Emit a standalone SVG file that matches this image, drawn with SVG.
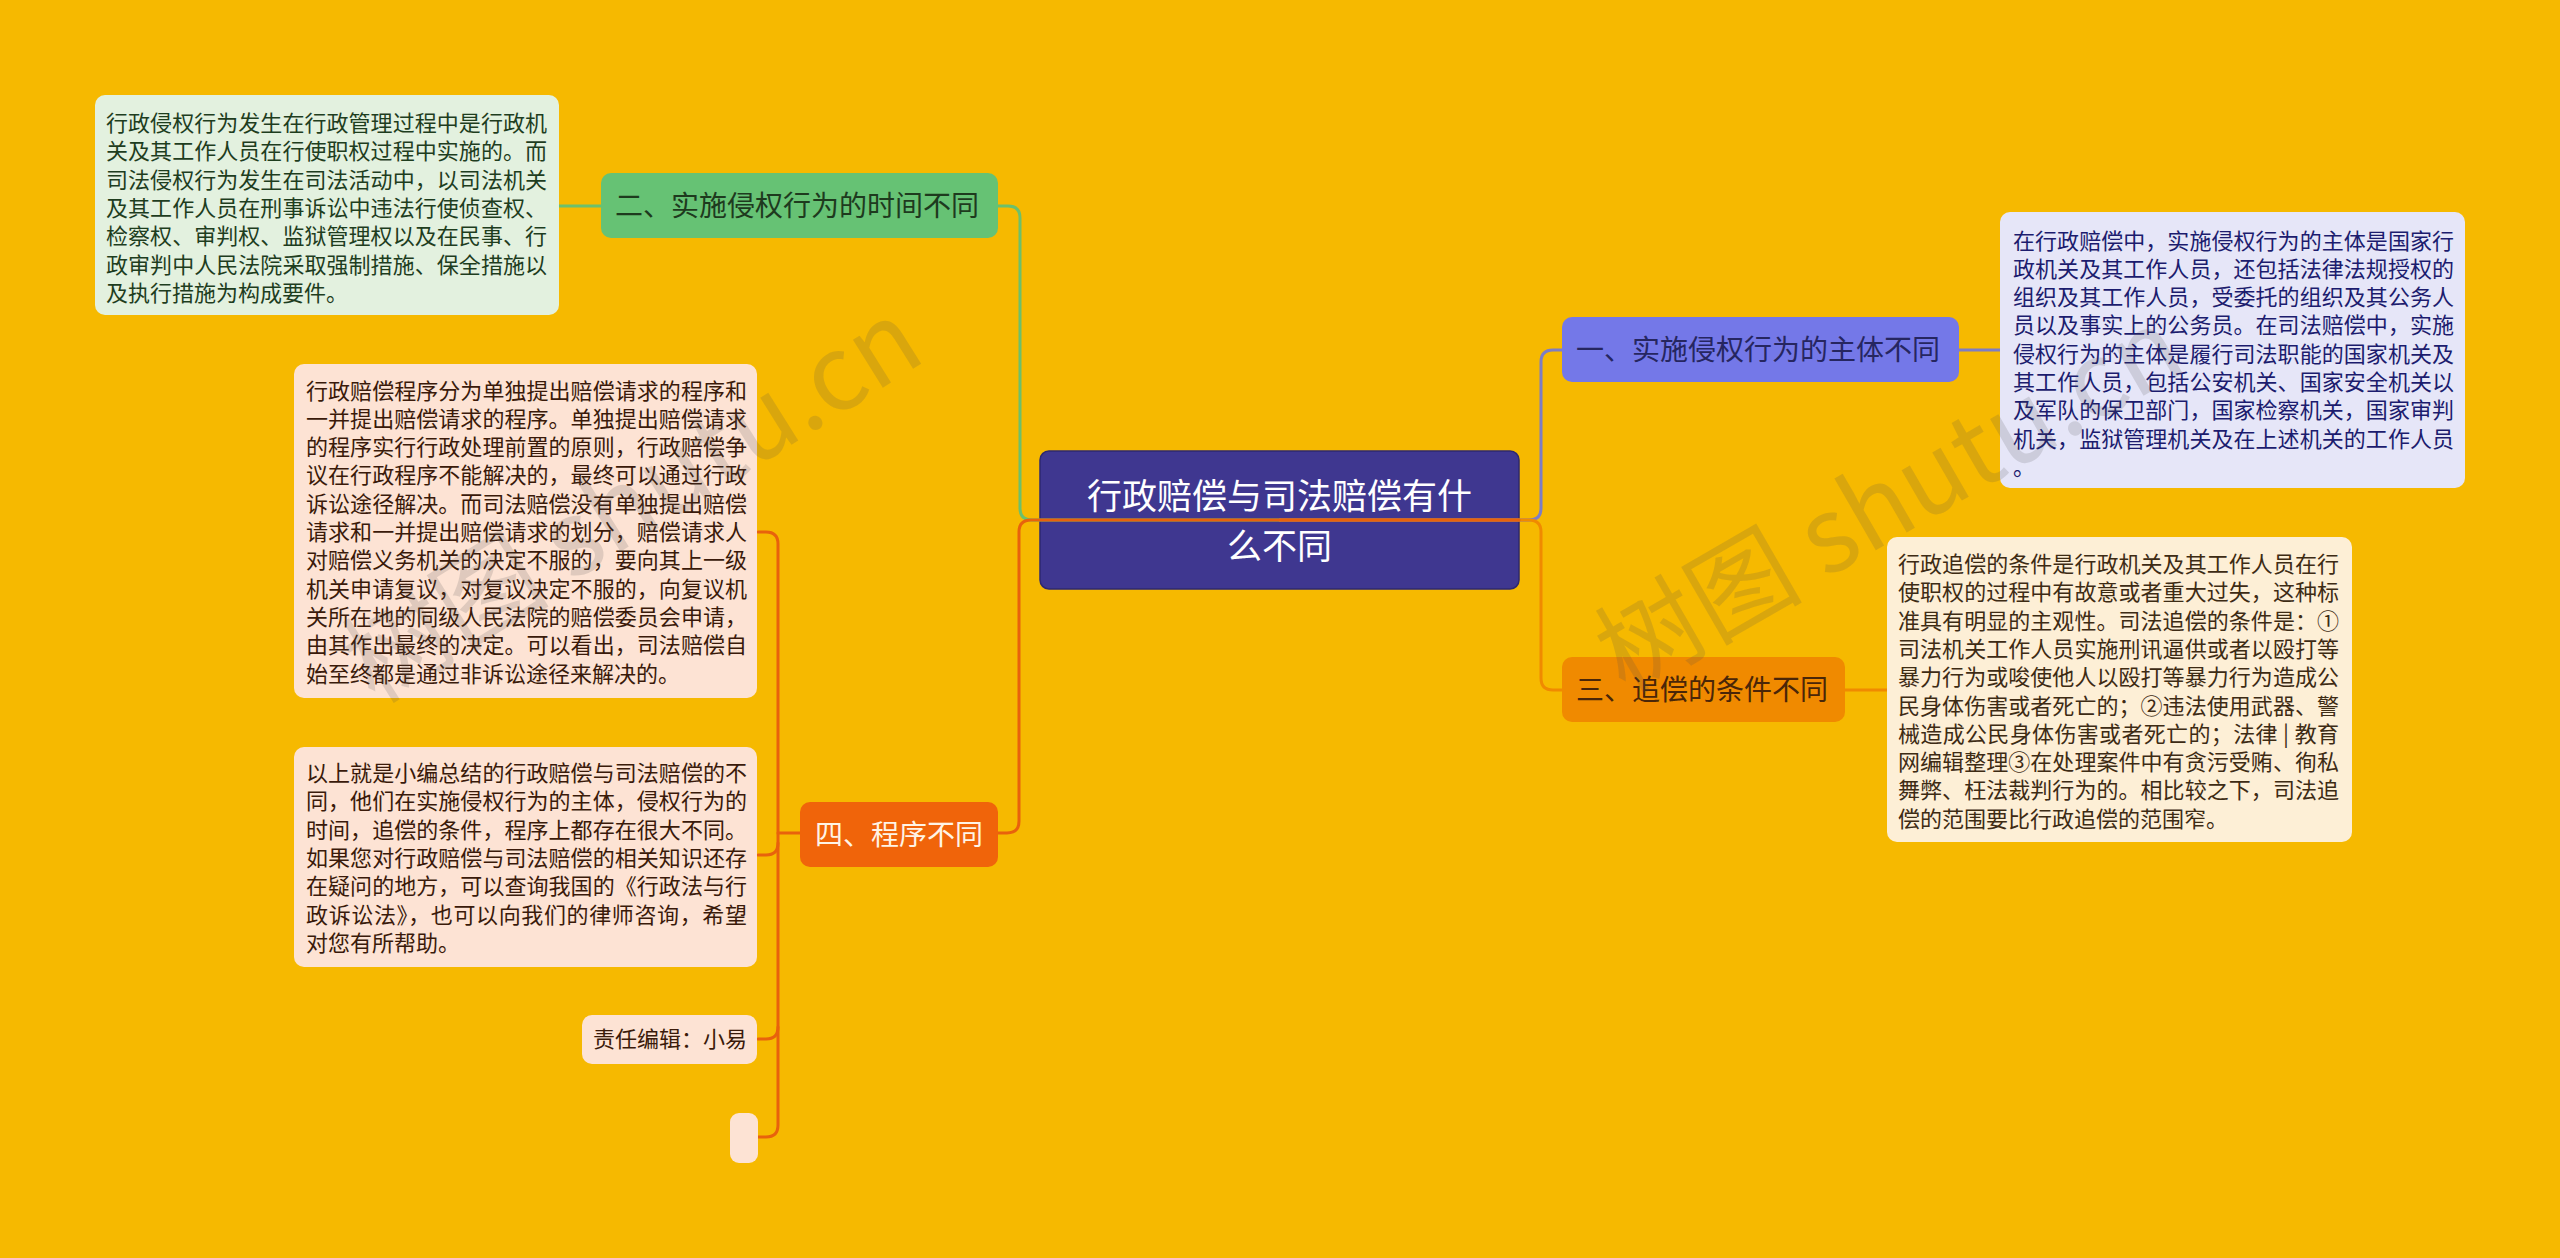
<svg xmlns="http://www.w3.org/2000/svg" width="2560" height="1258" viewBox="0 0 2560 1258">
<style>
text{font-family:"Noto Sans CJK SC","Noto Sans",sans-serif}
.leaf{font-size:22px}
.br{font-size:28px}
.con{fill:none;stroke-width:3;stroke-linecap:round}
.wm{font-size:104px;fill:#505050;fill-opacity:0.17}
</style>
<rect x="0" y="0" width="2560" height="1258" fill="#f6b900"/>

<g id="center">
<rect x="1040" y="451" width="479" height="138" rx="9" fill="#3f3790" stroke="#2e2870" stroke-width="1.5"/>
<text x="1279.5" y="509" font-size="35" fill="#ffffff" text-anchor="middle">行政赔偿与司法赔偿有什</text>
<text x="1279.5" y="559" font-size="35" fill="#ffffff" text-anchor="middle">么不同</text>
</g>

<g id="connectors">
<path class="con" stroke="#6cc06c" d="M1280 520 H1032 Q1020 520 1020 508 V218 Q1020 206 1008 206 H998"/>
<path class="con" stroke="#6cc06c" d="M601 206 H559"/>
<path class="con" stroke="#7d7dc4" d="M1280 520 H1529 Q1541 520 1541 508 V362 Q1541 350 1553 350 H1562"/>
<path class="con" stroke="#7d7dc4" d="M1959 350 H2000"/>
<path class="con" stroke="#f08a00" d="M1280 520 H1529 Q1541 520 1541 532 V678 Q1541 690 1553 690 H1562"/>
<path class="con" stroke="#f08a00" d="M1845 690 H1887"/>
<path class="con" stroke="#e8620c" d="M1519 520 H1031 Q1019 520 1019 532 V821 Q1019 833 1007 833 H998"/>
<path class="con" stroke="#e8620c" d="M800 833 H778"/>
<path class="con" stroke="#e8620c" d="M758 532 H766 Q778 532 778 544 V1125 Q778 1137 766 1137 H758"/>
<path class="con" stroke="#e8620c" d="M758 855 H766 Q778 855 778 843"/>
<path class="con" stroke="#e8620c" d="M758 1039 H766 Q778 1039 778 1027"/>
</g>

<g id="branch-2">
<rect x="601" y="173" width="397" height="65" rx="10" fill="#66c274"/>
<text class="br" x="615" y="215.5" fill="#1e3a1e">二、实施侵权行为的时间不同</text>
</g>

<g id="leaf-2">
<rect x="95" y="95" width="464" height="220" rx="10" fill="#e3f1df"/>
<g class="leaf" fill="#1e3d1e">
<text x="106" y="131" textLength="441" lengthAdjust="spacing">行政侵权行为发生在行政管理过程中是行政机</text>
<text x="106" y="159.3" textLength="441" lengthAdjust="spacing">关及其工作人员在行使职权过程中实施的。而</text>
<text x="106" y="187.7" textLength="441" lengthAdjust="spacing">司法侵权行为发生在司法活动中，以司法机关</text>
<text x="106" y="216" textLength="441" lengthAdjust="spacing">及其工作人员在刑事诉讼中违法行使侦查权、</text>
<text x="106" y="244.3" textLength="441" lengthAdjust="spacing">检察权、审判权、监狱管理权以及在民事、行</text>
<text x="106" y="272.7" textLength="441" lengthAdjust="spacing">政审判中人民法院采取强制措施、保全措施以</text>
<text x="106" y="301">及执行措施为构成要件。</text>
</g>
</g>

<g id="branch-1">
<rect x="1562" y="317" width="397" height="65" rx="10" fill="#7478e8"/>
<text class="br" x="1576" y="359.5" fill="#262660">一、实施侵权行为的主体不同</text>
</g>

<g id="leaf-1">
<rect x="2000" y="212" width="465" height="276" rx="10" fill="#e6e6f8"/>
<g class="leaf" fill="#1c1c6e">
<text x="2013" y="248.5" textLength="441" lengthAdjust="spacing">在行政赔偿中，实施侵权行为的主体是国家行</text>
<text x="2013" y="276.8" textLength="441" lengthAdjust="spacing">政机关及其工作人员，还包括法律法规授权的</text>
<text x="2013" y="305.1" textLength="441" lengthAdjust="spacing">组织及其工作人员，受委托的组织及其公务人</text>
<text x="2013" y="333.4" textLength="441" lengthAdjust="spacing">员以及事实上的公务员。在司法赔偿中，实施</text>
<text x="2013" y="361.7" textLength="441" lengthAdjust="spacing">侵权行为的主体是履行司法职能的国家机关及</text>
<text x="2013" y="390" textLength="441" lengthAdjust="spacing">其工作人员，包括公安机关、国家安全机关以</text>
<text x="2013" y="418.3" textLength="441" lengthAdjust="spacing">及军队的保卫部门，国家检察机关，国家审判</text>
<text x="2013" y="446.6" textLength="441" lengthAdjust="spacing">机关，监狱管理机关及在上述机关的工作人员</text>
<text x="2013" y="474.9">。</text>
</g>
</g>

<g id="branch-3">
<rect x="1562" y="657" width="283" height="65" rx="10" fill="#f08a00"/>
<text class="br" x="1576" y="699.5" fill="#4a2608">三、追偿的条件不同</text>
</g>

<g id="leaf-3">
<rect x="1887" y="537" width="465" height="305" rx="10" fill="#fdefd6"/>
<g class="leaf" fill="#3d2b14">
<text x="1898" y="572" textLength="441" lengthAdjust="spacing">行政追偿的条件是行政机关及其工作人员在行</text>
<text x="1898" y="600.3" textLength="441" lengthAdjust="spacing">使职权的过程中有故意或者重大过失，这种标</text>
<text x="1898" y="628.6" textLength="441" lengthAdjust="spacing">准具有明显的主观性。司法追偿的条件是：①</text>
<text x="1898" y="656.9" textLength="441" lengthAdjust="spacing">司法机关工作人员实施刑讯逼供或者以殴打等</text>
<text x="1898" y="685.2" textLength="441" lengthAdjust="spacing">暴力行为或唆使他人以殴打等暴力行为造成公</text>
<text x="1898" y="713.5" textLength="441" lengthAdjust="spacing">民身体伤害或者死亡的；②违法使用武器、警</text>
<text x="1898" y="741.8" textLength="441" lengthAdjust="spacing">械造成公民身体伤害或者死亡的；法律 | 教育</text>
<text x="1898" y="770.1" textLength="441" lengthAdjust="spacing">网编辑整理③在处理案件中有贪污受贿、徇私</text>
<text x="1898" y="798.4" textLength="441" lengthAdjust="spacing">舞弊、枉法裁判行为的。相比较之下，司法追</text>
<text x="1898" y="826.7">偿的范围要比行政追偿的范围窄。</text>
</g>
</g>

<g id="branch-4">
<rect x="800" y="802" width="198" height="65" rx="10" fill="#f0640a"/>
<text class="br" x="815" y="844.5" fill="#fff4e6">四、程序不同</text>
</g>

<g id="leaf-4a">
<rect x="294" y="364" width="463" height="334" rx="10" fill="#fde3d4"/>
<g class="leaf" fill="#3a1a0a">
<text x="306" y="398.5" textLength="441" lengthAdjust="spacing">行政赔偿程序分为单独提出赔偿请求的程序和</text>
<text x="306" y="426.8" textLength="441" lengthAdjust="spacing">一并提出赔偿请求的程序。单独提出赔偿请求</text>
<text x="306" y="455.1" textLength="441" lengthAdjust="spacing">的程序实行行政处理前置的原则，行政赔偿争</text>
<text x="306" y="483.4" textLength="441" lengthAdjust="spacing">议在行政程序不能解决的，最终可以通过行政</text>
<text x="306" y="511.7" textLength="441" lengthAdjust="spacing">诉讼途径解决。而司法赔偿没有单独提出赔偿</text>
<text x="306" y="540" textLength="441" lengthAdjust="spacing">请求和一并提出赔偿请求的划分，赔偿请求人</text>
<text x="306" y="568.3" textLength="441" lengthAdjust="spacing">对赔偿义务机关的决定不服的，要向其上一级</text>
<text x="306" y="596.6" textLength="441" lengthAdjust="spacing">机关申请复议，对复议决定不服的，向复议机</text>
<text x="306" y="624.9" textLength="441" lengthAdjust="spacing">关所在地的同级人民法院的赔偿委员会申请，</text>
<text x="306" y="653.2" textLength="441" lengthAdjust="spacing">由其作出最终的决定。可以看出，司法赔偿自</text>
<text x="306" y="681.5">始至终都是通过非诉讼途径来解决的。</text>
</g>
</g>

<g id="leaf-4b">
<rect x="294" y="747" width="463" height="220" rx="10" fill="#fde3d4"/>
<g class="leaf" fill="#3a1a0a">
<text x="306" y="781" textLength="441" lengthAdjust="spacing">以上就是小编总结的行政赔偿与司法赔偿的不</text>
<text x="306" y="809.3" textLength="441" lengthAdjust="spacing">同，他们在实施侵权行为的主体，侵权行为的</text>
<text x="306" y="837.6" textLength="441" lengthAdjust="spacing">时间，追偿的条件，程序上都存在很大不同。</text>
<text x="306" y="865.9" textLength="441" lengthAdjust="spacing">如果您对行政赔偿与司法赔偿的相关知识还存</text>
<text x="306" y="894.2" textLength="441" lengthAdjust="spacing">在疑问的地方，可以查询我国的《行政法与行</text>
<text x="306" y="922.5" textLength="441" lengthAdjust="spacing">政诉讼法》，也可以向我们的律师咨询，希望</text>
<text x="306" y="950.8">对您有所帮助。</text>
</g>
</g>

<g id="leaf-4c">
<rect x="582" y="1015" width="175" height="49" rx="10" fill="#fde3d4"/>
<text class="leaf" x="593" y="1047" fill="#3a1a0a">责任编辑：小易</text>
</g>

<g id="leaf-4d">
<rect x="730" y="1113" width="28" height="50" rx="9" fill="#fde3d4"/>
</g>

<g id="watermarks">
<text class="wm" transform="translate(375 705) rotate(-32)">树图 shutu.cn</text>
<text class="wm" transform="translate(1625 695) rotate(-30)">树图 shutu.cn</text>
</g>
</svg>
